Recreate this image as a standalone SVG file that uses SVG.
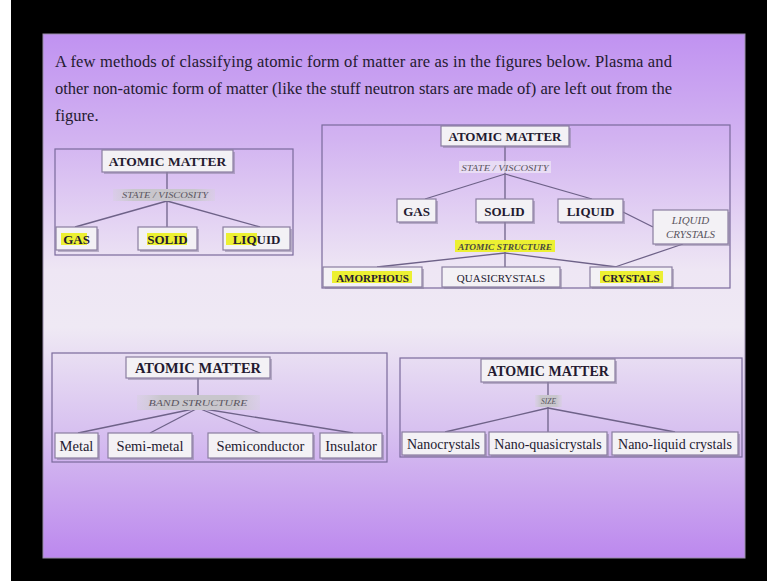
<svg xmlns="http://www.w3.org/2000/svg" width="767" height="581" viewBox="0 0 767 581">
<style>
text{font-family:"Liberation Serif","Times New Roman",serif;fill:#241a30}
.para{font-size:16.5px}
.am{font-size:13.5px;font-weight:bold;text-anchor:middle}
.lb{font-size:13px;font-weight:bold;text-anchor:middle}
.sm{font-size:11px;text-anchor:middle}
.rg{font-size:14.5px;text-anchor:middle}
.it{font-style:italic;text-anchor:middle;fill:#5a5560}
.frame{fill:none;stroke:#7a6a9c;stroke-width:1.2}
.box{fill:#f3f1f5;stroke:#8a7ea0;stroke-width:1.2}
.shadow{fill:#8c84a0;opacity:.55}
.hl{fill:#ecf032}
.tag{fill:url(#tagg)}
.conn line{stroke:#6e6288;stroke-width:1.3}
</style>
<defs>
<linearGradient id="bg" x1="0" y1="0" x2="0" y2="1">
<stop offset="0" stop-color="#c092f1"/>
<stop offset="0.2" stop-color="#d2b3f1"/>
<stop offset="0.45" stop-color="#eee6f4"/>
<stop offset="0.56" stop-color="#efe9f4"/>
<stop offset="0.75" stop-color="#d8c2f0"/>
<stop offset="1" stop-color="#bc88ee"/>
</linearGradient>
<linearGradient id="tagg" x1="0" y1="0" x2="1" y2="0">
<stop offset="0" stop-color="#d2d0d6" stop-opacity="0.3"/>
<stop offset="0.2" stop-color="#c8c6cc"/>
<stop offset="0.8" stop-color="#c8c6cc"/>
<stop offset="1" stop-color="#d2d0d6" stop-opacity="0.3"/>
</linearGradient>
</defs>
<rect x="0" y="0" width="767" height="581" fill="#000"/>
<rect x="0" y="0" width="11" height="581" fill="#fff"/>
<rect x="43" y="34" width="702" height="524" fill="url(#bg)" stroke="#9a8eaa" stroke-width="1"/>
<g id="intro">
<text class="para" x="55" y="67" textLength="617" lengthAdjust="spacing">A few methods of classifying atomic form of matter are as in the figures below. Plasma and</text>
<text class="para" x="55" y="94" textLength="617" lengthAdjust="spacing">other non-atomic form of matter (like the stuff neutron stars are made of) are left out from the</text>
<text class="para" x="55" y="121">figure.</text>
</g>
<g id="frames">
<rect class="frame" x="55" y="149" width="238" height="106"/>
<rect class="frame" x="322" y="125" width="408" height="163"/>
<rect class="frame" x="52" y="353" width="335" height="109"/>
<rect class="frame" x="400" y="358" width="342" height="99"/>
</g>
<g class="conn" id="connectors">
<line x1="167" y1="172" x2="167" y2="227"/>
<line x1="167" y1="201" x2="75" y2="227"/>
<line x1="167" y1="201" x2="260" y2="227"/>
<line x1="505" y1="146" x2="505" y2="267"/>
<line x1="505" y1="174" x2="425" y2="199"/>
<line x1="505" y1="174" x2="592" y2="199"/>
<line x1="623" y1="212" x2="653" y2="227"/>
<line x1="683" y1="244" x2="615" y2="267"/>
<line x1="505" y1="253" x2="377" y2="267"/>
<line x1="505" y1="253" x2="617" y2="267"/>
<line x1="198" y1="378" x2="198" y2="408"/>
<line x1="198" y1="408" x2="78" y2="433"/>
<line x1="198" y1="408" x2="150" y2="433"/>
<line x1="198" y1="408" x2="260" y2="433"/>
<line x1="198" y1="408" x2="353" y2="433"/>
<line x1="548" y1="382" x2="548" y2="432"/>
<line x1="548" y1="408" x2="445" y2="432"/>
<line x1="548" y1="408" x2="675" y2="432"/>
</g>
<g id="d1-root"><rect class="shadow" x="104" y="152" width="131" height="22"/><rect class="box" x="102" y="150" width="131" height="22"/><text class="am" x="167.5" y="165.5">ATOMIC MATTER</text></g>
<g id="d1-tag"><rect class="tag" x="113" y="189" width="102" height="12"/><text class="it" x="165" y="198" font-size="8" textLength="86" lengthAdjust="spacingAndGlyphs">STATE / VISCOSITY</text></g>
<g id="d1-gas"><rect class="shadow" x="58" y="229" width="41" height="23"/><rect class="box" x="56" y="227" width="41" height="23"/><rect class="hl" x="61" y="233" width="26" height="12"/><text class="lb" x="76.5" y="243.5">GAS</text></g>
<g id="d1-solid"><rect class="shadow" x="140" y="229" width="59" height="23"/><rect class="box" x="138" y="227" width="59" height="23"/><rect class="hl" x="147" y="233" width="40" height="12"/><text class="lb" x="167.5" y="243.5">SOLID</text></g>
<g id="d1-liquid"><rect class="shadow" x="225" y="229" width="67" height="23"/><rect class="box" x="223" y="227" width="67" height="23"/><rect class="hl" x="226" y="233" width="31" height="12"/><text class="lb" x="256.5" y="243.5">LIQUID</text></g>
<g id="d2-root"><rect class="shadow" x="443" y="128" width="128" height="20"/><rect class="box" x="441" y="126" width="128" height="20"/><text class="am" x="505" y="140.5" style="font-size:13px">ATOMIC MATTER</text></g>
<g id="d2-tag"><rect x="459" y="161" width="92" height="12" fill="#f4f0f6" opacity="0.6"/><text class="it" x="505" y="170.5" font-size="8" textLength="87" lengthAdjust="spacingAndGlyphs">STATE / VISCOSITY</text></g>
<g id="d2-gas"><rect class="shadow" x="399" y="201" width="39" height="23"/><rect class="box" x="397" y="199" width="39" height="23"/><text class="lb" x="416.5" y="215.5">GAS</text></g>
<g id="d2-solid"><rect class="shadow" x="478" y="201" width="57" height="23"/><rect class="box" x="476" y="199" width="57" height="23"/><text class="lb" x="504.5" y="215.5">SOLID</text></g>
<g id="d2-liquid"><rect class="shadow" x="560" y="201" width="65" height="23"/><rect class="box" x="558" y="199" width="65" height="23"/><text class="lb" x="590.5" y="215.5">LIQUID</text></g>
<g id="d2-lc"><rect class="shadow" x="655" y="212" width="75" height="34"/><rect class="box" x="653" y="210" width="75" height="34"/><text class="it" x="690.5" y="224" font-size="11">LIQUID</text><text class="it" x="690.5" y="238" font-size="11">CRYSTALS</text></g>
<g id="d2-tag2"><rect class="hl" x="455" y="240" width="100" height="12"/><text class="it" x="505" y="249.5" font-size="7.5" font-weight="bold" textLength="94" lengthAdjust="spacingAndGlyphs" style="fill:#4a4a40">ATOMIC STRUCTURE</text></g>
<g id="d2-amorphous"><rect class="shadow" x="325" y="269" width="99" height="20"/><rect class="box" x="323" y="267" width="99" height="20"/><rect class="hl" x="332" y="271" width="80" height="12"/><text class="sm" x="372.5" y="281.5" font-weight="bold">AMORPHOUS</text></g>
<g id="d2-quasi"><rect class="shadow" x="444" y="269" width="118" height="20"/><rect class="box" x="442" y="267" width="118" height="20"/><text class="sm" x="501" y="281.5">QUASICRYSTALS</text></g>
<g id="d2-crystals"><rect class="shadow" x="592" y="269" width="82" height="20"/><rect class="box" x="590" y="267" width="82" height="20"/><rect class="hl" x="600" y="271" width="63" height="12"/><text class="sm" x="631" y="281.5" font-weight="bold">CRYSTALS</text></g>
<g id="d3-root"><rect class="shadow" x="128" y="359" width="144" height="21"/><rect class="box" x="126" y="357" width="144" height="21"/><text class="am" x="198" y="372.5" style="font-size:14.5px">ATOMIC MATTER</text></g>
<g id="d3-tag"><rect class="tag" x="137" y="395" width="123" height="15"/><text class="it" x="198" y="406" font-size="9" textLength="99" lengthAdjust="spacingAndGlyphs">BAND STRUCTURE</text></g>
<g id="d3-metal"><rect class="shadow" x="57" y="435" width="43" height="25"/><rect class="box" x="55" y="433" width="43" height="25"/><text class="rg" x="76.5" y="450.5">Metal</text></g>
<g id="d3-semimetal"><rect class="shadow" x="110" y="435" width="84" height="25"/><rect class="box" x="108" y="433" width="84" height="25"/><text class="rg" x="150" y="450.5">Semi-metal</text></g>
<g id="d3-semicond"><rect class="shadow" x="210" y="435" width="105" height="25"/><rect class="box" x="208" y="433" width="105" height="25"/><text class="rg" x="260.5" y="450.5">Semiconductor</text></g>
<g id="d3-insulator"><rect class="shadow" x="322" y="435" width="62" height="25"/><rect class="box" x="320" y="433" width="62" height="25"/><text class="rg" x="351" y="450.5">Insulator</text></g>
<g id="d4-root"><rect class="shadow" x="483" y="361" width="134" height="23"/><rect class="box" x="481" y="359" width="134" height="23"/><text class="am" x="548" y="375.5" style="font-size:14px">ATOMIC MATTER</text></g>
<g id="d4-tag"><rect class="tag" x="535" y="395" width="27" height="12"/><text class="it" x="548.5" y="404" font-size="7.5">SIZE</text></g>
<g id="d4-nano"><rect class="shadow" x="404" y="434" width="83" height="23"/><rect class="box" x="402" y="432" width="83" height="23"/><text class="rg" x="443.5" y="448.5" style="font-size:14px">Nanocrystals</text></g>
<g id="d4-nanoquasi"><rect class="shadow" x="491" y="434" width="118" height="23"/><rect class="box" x="489" y="432" width="118" height="23"/><text class="rg" x="548" y="448.5" style="font-size:14px">Nano-quasicrystals</text></g>
<g id="d4-nanolc"><rect class="shadow" x="614" y="434" width="126" height="23"/><rect class="box" x="612" y="432" width="126" height="23"/><text class="rg" x="675" y="448.5" style="font-size:14px">Nano-liquid crystals</text></g>
</svg>
